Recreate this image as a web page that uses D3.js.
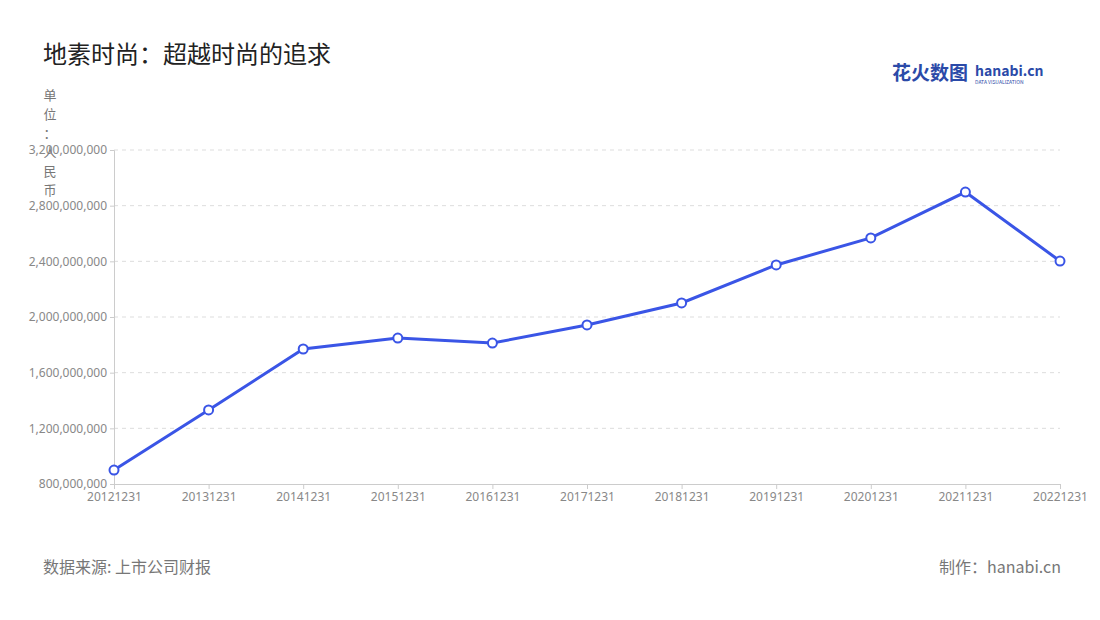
<!DOCTYPE html>
<html><head><meta charset="utf-8">
<script src="https://cdn.jsdelivr.net/npm/d3@7"></script>
<style>body{margin:0;background:#fff;font-family:"Noto Sans CJK SC","Noto Sans",sans-serif}</style>
</head><body><svg id="c" width="1100" height="620"></svg>
<script>
const categories=["20121231","20131231","20141231","20151231","20161231","20171231","20181231","20191231","20201231","20211231","20221231"];
const values=[900e6,1332e6,1770e6,1849e6,1813e6,1943e6,2101e6,2374e6,2568e6,2898e6,2402e6];
const yTicks=[800e6,1200e6,1600e6,2000e6,2400e6,2800e6,3200e6];
const svg=d3.select("#c");
const x=d3.scalePoint().domain(categories).range([114,1060]);
const y=d3.scaleLinear().domain([800e6,3200e6]).range([484,150]);
const fmt=d3.format(",");
svg.append("text").attr("x",43).attr("y",63).attr("font-size",24).attr("fill","#222").text("地素时尚：超越时尚的追求");
const lg=svg.append("g");
lg.append("text").attr("x",892).attr("y",80).attr("font-size",19).attr("font-weight","bold").attr("fill","#2b4aa8").text("花火数图");
lg.append("text").attr("x",975).attr("y",76).attr("font-size",14).attr("font-weight","bold").attr("fill","#2b4aa8").text("hanabi.cn");
lg.append("text").attr("x",975).attr("y",84).attr("font-size",5).attr("fill","#2b4aa8").text("DATA VISUALIZATION");
svg.append("g").selectAll("line").data(yTicks.slice(1)).join("line")
 .attr("x1",114).attr("x2",1060).attr("y1",d=>y(d)).attr("y2",d=>y(d))
 .attr("stroke","#ddd").attr("stroke-dasharray","4,4");
const ya=svg.append("g").attr("transform","translate(114,0)").call(d3.axisLeft(y).tickValues(yTicks).tickFormat(fmt).tickSize(4));
ya.select(".domain").attr("stroke","#ccc");ya.selectAll("line").attr("stroke","#ccc");
ya.selectAll("text").attr("fill","#888").attr("font-size",12).attr("font-family","Noto Sans");
const xa=svg.append("g").attr("transform","translate(0,484)").call(d3.axisBottom(x).tickSize(5));
xa.select(".domain").attr("stroke","#ccc");xa.selectAll("line").attr("stroke","#ccc");
xa.selectAll("text").attr("fill","#888").attr("font-size",12).attr("font-family","Noto Sans");
const unit="单位：人民币".split("");
svg.append("g").selectAll("text").data(unit).join("text").attr("x",50).attr("y",(d,i)=>100+i*19)
 .attr("text-anchor","middle").attr("font-size",13).attr("fill","#777").text(d=>d);
svg.append("path").datum(values).attr("fill","none").attr("stroke","#3a55e6").attr("stroke-width",3)
 .attr("d",d3.line().x((d,i)=>x(categories[i])).y(d=>y(d)));
svg.append("g").selectAll("circle").data(values).join("circle").attr("cx",(d,i)=>x(categories[i])).attr("cy",d=>y(d))
 .attr("r",4.5).attr("fill","#fff").attr("stroke","#3a55e6").attr("stroke-width",2);
svg.append("text").attr("x",43).attr("y",573).attr("font-size",16).attr("fill","#777").text("数据来源: 上市公司财报");
svg.append("text").attr("x",1061).attr("y",573).attr("text-anchor","end").attr("font-size",16).attr("fill","#777").text("制作：hanabi.cn");
</script></body></html>
